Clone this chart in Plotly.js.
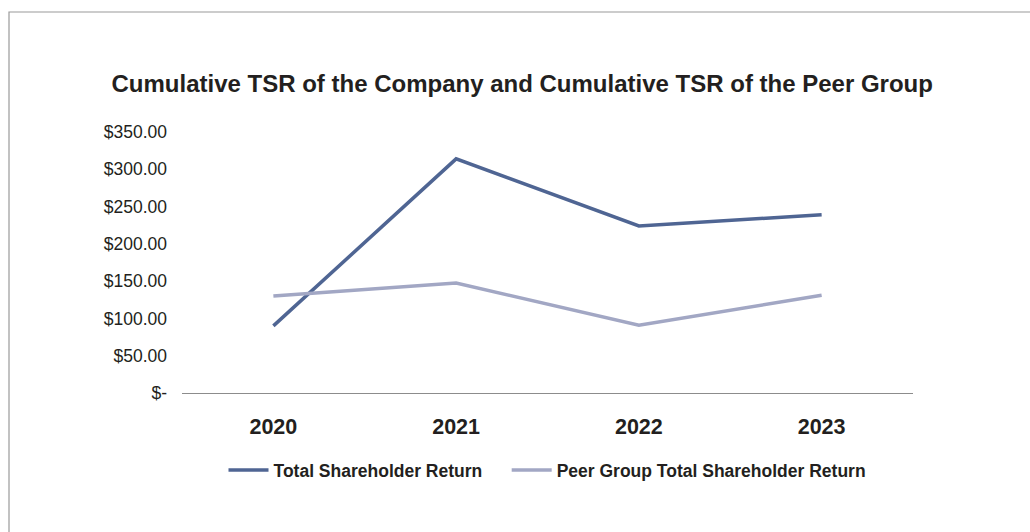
<!DOCTYPE html>
<html>
<head>
<meta charset="utf-8">
<script src="https://cdn.plot.ly/plotly-3.0.1.min.js"></script>
<style>html,body{margin:0;padding:0;background:#fff;}#chart{width:1030px;height:532px;}</style>
</head>
<body>
<div id="chart"></div>
<script>
var years = ["2020", "2021", "2022", "2023"];
var tsr = [90, 314, 224, 239];
var peer = [130, 147.5, 91, 131];
var yTickVals = [0, 50, 100, 150, 200, 250, 300, 350];
var yTickText = ["$-", "$50.00", "$100.00", "$150.00", "$200.00", "$250.00", "$300.00", "$350.00"];
var seriesNames = ["Total Shareholder Return", "Peer Group Total Shareholder Return"];

var pad = "\u00a0\u00a0\u00a0\u00a0";
var traces = [
  {x: years, y: tsr, name: seriesNames[0] + pad, type: "scatter", mode: "lines",
   line: {color: "#4f6593", width: 3.5}},
  {x: years, y: peer, name: seriesNames[1], type: "scatter", mode: "lines",
   line: {color: "#a2a7c4", width: 3.5}}
];

var layout = {
  width: 1030, height: 532,
  margin: {l: 182, r: 117, t: 132, b: 139},
  paper_bgcolor: "#fff", plot_bgcolor: "#fff",
  font: {family: "Liberation Sans, Arial, sans-serif", color: "#231f20"},
  title: {text: "<b>Cumulative TSR of the Company and Cumulative TSR of the Peer Group</b>",
          font: {size: 24, color: "#231f20"}, x: 0.507, xanchor: "center",
          y: (532 - 84) / 532, yanchor: "middle", yref: "container"},
  xaxis: {type: "category", range: [-0.5, 3.5], showgrid: false, zeroline: false,
          showline: true, linecolor: "#8c8c8c", linewidth: 1, ticks: "",
          tickfont: {size: 21.5, color: "#231f20", family: "Liberation Sans, Arial, sans-serif", weight: "bold"},
          ticklabelstandoff: 14, fixedrange: true},
  yaxis: {range: [0, 350], tickvals: yTickVals, ticktext: yTickText, showgrid: false,
          zeroline: false, showline: false, ticks: "", ticklabelstandoff: 14,
          tickfont: {size: 17.5, color: "#231f20"}, fixedrange: true},
  showlegend: true,
  legend: {orientation: "h", x: 0.5, xanchor: "center", y: (532 - 470) / 532, yanchor: "middle",
           yref: "container", font: {size: 17.5, color: "#231f20", weight: "bold"},
           itemwidth: 40, tracegroupgap: 0},
  shapes: [{type: "rect", xref: "paper", yref: "paper",
            x0: (9 - 182) / 731, x1: 1.4, y0: -0.8, y1: (393 - 12) / 261,
            line: {color: "#9a9a9a", width: 1.2}, fillcolor: "rgba(0,0,0,0)", layer: "below"}]
};

Plotly.newPlot("chart", traces, layout, {displayModeBar: false, staticPlot: true});
</script>
</body>
</html>
